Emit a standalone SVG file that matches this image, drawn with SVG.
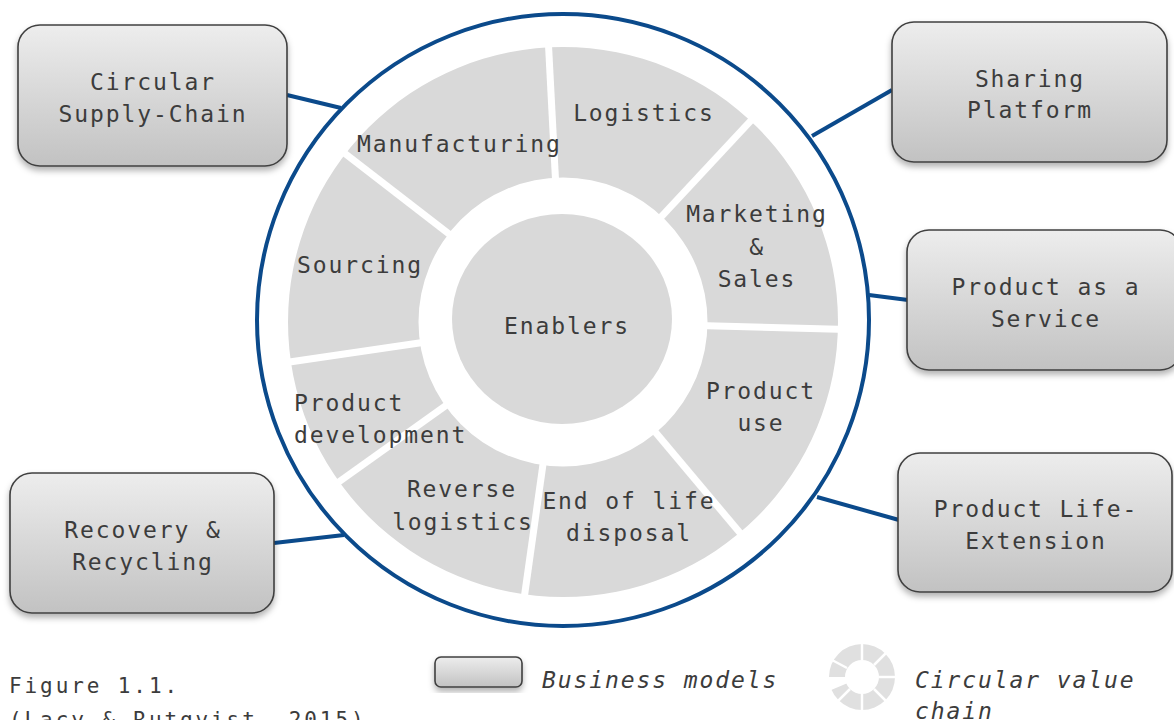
<svg xmlns="http://www.w3.org/2000/svg" width="1174" height="720" viewBox="0 0 1174 720">
<defs>
<linearGradient id="boxg" x1="0" y1="0" x2="0" y2="1">
<stop offset="0" stop-color="#ededed"/>
<stop offset="1" stop-color="#c2c2c2"/>
</linearGradient>
<filter id="sh" x="-10%" y="-10%" width="120%" height="130%">
<feDropShadow dx="0" dy="4" stdDeviation="3" flood-color="#000" flood-opacity="0.3"/>
</filter>
<style>
.box{fill:url(#boxg);stroke:#404040;stroke-width:1.6;filter:url(#sh)}
.t{font-family:"DejaVu Sans Mono","Liberation Mono",monospace;font-size:23px;letter-spacing:1.9px;fill:#3c3c3c}
.c{text-anchor:middle}
.it{font-style:italic}
.con{stroke:#0b4a8b;stroke-width:4;fill:none}
.seg{fill:#d9d9d9}
.gap{stroke:#fff;stroke-width:7}
.igap{stroke:#fff;stroke-width:2.5}
</style>
</defs>
<rect width="1174" height="720" fill="#fff"/>

<g id="connectors">
<line class="con" x1="287" y1="95" x2="341" y2="108"/>
<line class="con" x1="892" y1="90" x2="812" y2="136"/>
<line class="con" x1="869" y1="295" x2="908" y2="300"/>
<line class="con" x1="817" y1="497" x2="899" y2="520"/>
<line class="con" x1="274" y1="543" x2="344" y2="535"/>
</g>

<g id="value-chain">
<circle cx="563" cy="320" r="306" fill="none" stroke="#0b4a8b" stroke-width="4"/>
<path class="seg" fill-rule="evenodd" d="M288,322a275,275 0 1,0 550,0a275,275 0 1,0 -550,0Z M418.5,322a144.5,144.5 0 1,0 289,0a144.5,144.5 0 1,0 -289,0Z"/>
<g id="segment-gaps">
<line class="gap" x1="555.9" y1="187.2" x2="548.1" y2="37.4"/>
<line class="gap" x1="655.1" y1="223.3" x2="757.4" y2="113.6"/>
<line class="gap" x1="698.0" y1="325.5" x2="847.9" y2="329.5"/>
<line class="gap" x1="649.8" y1="425.4" x2="746.2" y2="540.3"/>
<line class="gap" x1="544.2" y1="455.7" x2="523.3" y2="604.2"/>
<line class="gap" x1="453.1" y1="400.4" x2="331.0" y2="487.5"/>
<line class="gap" x1="429.4" y1="341.5" x2="281.0" y2="363.2"/>
<line class="gap" x1="456.2" y1="239.4" x2="337.5" y2="147.7"/>
</g>
<g id="manufacturing"><text class="t" x="357" y="152">Manufacturing</text></g>
<g id="logistics"><text class="t c" x="644" y="121">Logistics</text></g>
<g id="marketing-sales"><text class="t c" x="757" y="222">Marketing</text><text class="t c" x="757" y="255">&amp;</text><text class="t c" x="757" y="287">Sales</text></g>
<g id="product-use"><text class="t c" x="761" y="399">Product</text><text class="t c" x="761" y="431">use</text></g>
<g id="end-of-life"><text class="t c" x="629" y="509">End of life</text><text class="t c" x="629" y="541">disposal</text></g>
<g id="reverse-logistics"><text class="t c" x="462" y="497">Reverse</text><text class="t c" x="463" y="530">logistics</text></g>
<g id="product-development"><text class="t" x="294" y="411">Product</text><text class="t" x="294" y="443">development</text></g>
<g id="sourcing"><text class="t" x="297" y="273">Sourcing</text></g>
<g id="enablers"><ellipse cx="562" cy="319" rx="110" ry="105" fill="#d9d9d9"/><text class="t c" x="567" y="334">Enablers</text></g>
</g>

<g id="circular-supply-chain"><rect class="box" x="18" y="25" width="269" height="141" rx="22"/><text class="t c" x="153" y="90">Circular</text><text class="t c" x="153" y="122">Supply-Chain</text></g>
<g id="sharing-platform"><rect class="box" x="892" y="22" width="275" height="140" rx="22"/><text class="t c" x="1030" y="87">Sharing</text><text class="t c" x="1030" y="118">Platform</text></g>
<g id="product-as-a-service"><rect class="box" x="907" y="230" width="275" height="140" rx="22"/><text class="t c" x="1046" y="295">Product as a</text><text class="t c" x="1046" y="327">Service</text></g>
<g id="product-life-extension"><rect class="box" x="898" y="453" width="274" height="139" rx="22"/><text class="t c" x="1036" y="517">Product Life-</text><text class="t c" x="1036" y="549">Extension</text></g>
<g id="recovery-recycling"><rect class="box" x="10" y="473" width="264" height="140" rx="22"/><text class="t c" x="143" y="538">Recovery &amp;</text><text class="t c" x="143" y="570">Recycling</text></g>

<g id="legend">
<rect class="box" x="435" y="657" width="87" height="30" rx="6"/>
<text class="t it" x="542" y="688">Business models</text>
<g id="legend-ring">
<path fill="#e0e0e0" fill-rule="evenodd" d="M829,677a33,33 0 1,0 66,0a33,33 0 1,0 -66,0Z M845,677a17,17 0 1,0 34,0a17,17 0 1,0 -34,0Z"/>
<line class="igap" x1="862" y1="660" x2="862" y2="642"/>
<line class="igap" x1="874" y1="665" x2="887" y2="652"/>
<line class="igap" x1="879" y1="677" x2="897" y2="677"/>
<line class="igap" x1="874" y1="689" x2="887" y2="702"/>
<line class="igap" x1="862" y1="694" x2="862" y2="712"/>
<line class="igap" x1="850" y1="689" x2="837" y2="702"/>
<path fill="#fff" d="M862,677 L824,693 L822,677 Z"/>
<line class="igap" x1="847" y1="668" x2="832" y2="660"/>
</g>
<text class="t it" x="915" y="688">Circular value</text>
<text class="t it" x="915" y="719">chain</text>
</g>

<g id="caption">
<text class="t" x="9" y="693" style="font-size:21px;letter-spacing:2.9px">Figure 1.1.</text>
<text class="t" x="9" y="727" style="font-size:21px;letter-spacing:2.9px">(Lacy &amp; Rutqvist, 2015)</text>
</g>
</svg>
